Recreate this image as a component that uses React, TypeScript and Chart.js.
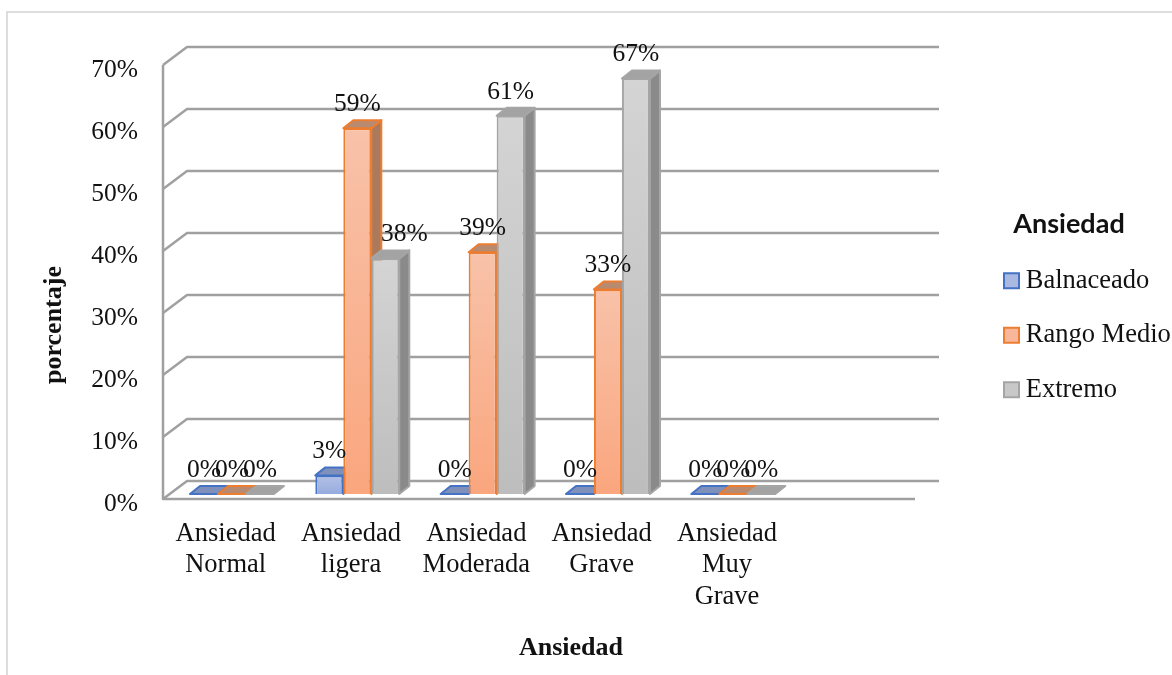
import React, { useEffect, useRef } from "react";
import { Chart, registerables } from "chart.js";

Chart.register(...registerables);

const categories: (string | string[])[] = [
  ["Ansiedad", "Normal"],
  ["Ansiedad", "ligera"],
  ["Ansiedad", "Moderada"],
  ["Ansiedad", "Grave"],
  ["Ansiedad", "Muy", "Grave"],
  "",
];
const balanceado = [0, 3, 0, 0, 0, null];
const rangoMedio = [0, 59, 39, 33, 0, null];
const extremo = [0, 38, 61, 67, 0, null];
const seriesNames = ["Balnaceado", "Rango Medio", "Extremo"];
const axisTitleY = "porcentaje";
const axisTitleX = "Ansiedad";
const legendTitle = "Ansiedad";

const borderColors = ["#4472C4", "#ED7D31", "#A5A5A5"];
const gradTop = ["#B4C1E6", "#F8C2A9", "#D4D4D4"];
const gradBottom = ["#96ABDE", "#FAA67E", "#BDBDBD"];
const legendFill = ["#AAB9E2", "#F8B79A", "#C8C8C8"];
const topFace = ["#7F90BA", "#B88A70", "#A3A3A3"];
const sideFace = ["#6B7CA6", "#A97A5E", "#8A8A8A"];

const SERIF = "'Liberation Serif'";
const FS = 25.5;
const FS_LABEL = 26.5;
const WALL = "#A0A0A0";
const BAR_DX = 6.3;
const BAR_DY = -5;
const DEPTH_X = 10;
const DEPTH_Y = -8;
const WALL_DX = 24;
const WALL_DY = -18;

const shiftTitle = (dx: number, dy: number) => (scale: any) => {
  if (scale._shifted) return;
  scale._shifted = true;
  const orig = scale.drawTitle;
  scale.drawTitle = function (...a: any[]) {
    const c = this.ctx;
    c.save();
    c.translate(dx, dy);
    orig.apply(this, a);
    c.restore();
  };
};

const scene3d = {
  id: "scene3d",
  beforeLayout(chart: any) {
    const l = chart.legend;
    if (l && !l._fixed) {
      l._fixed = true;
      const f = l.fit;
      l.fit = function () {
        f.call(this);
        this.width = 257;
      };
    }
  },
  afterLayout(chart: any) {
    const l = chart.legend;
    const pad = l.options.labels.padding;
    const h = l.height;
    l.left = 1010.5 - pad;
    l.width = 2 * (1069 - l.left);
    l.right = 1172;
    l.top = 210.5;
    l.bottom = l.top + h;
  },
  beforeDraw(chart: any) {
    const c = chart.ctx;
    c.save();
    c.strokeStyle = "#DDDDDD";
    c.lineWidth = 2;
    c.beginPath();
    c.moveTo(7, 675);
    c.lineTo(7, 12);
    c.lineTo(1172, 12);
    c.stroke();
    c.restore();
  },
  beforeDatasetsDraw(chart: any) {
    const c = chart.ctx;
    const y = chart.scales.y;
    const { left, right } = chart.chartArea;
    c.save();
    c.strokeStyle = WALL;
    c.lineWidth = 2.5;
    c.lineJoin = "round";
    y.ticks.forEach((t: any) => {
      const py = y.getPixelForValue(t.value);
      c.beginPath();
      c.moveTo(left, py);
      c.lineTo(left + WALL_DX, py + WALL_DY);
      c.lineTo(right + WALL_DX, py + WALL_DY);
      c.stroke();
    });
    c.beginPath();
    c.moveTo(left, y.getPixelForValue(70));
    c.lineTo(left, y.getPixelForValue(0));
    c.lineTo(right, y.getPixelForValue(0));
    c.stroke();
    c.restore();

    // Draw the series left to right so each bar covers its neighbour's side face.
    chart.data.datasets.forEach((ds: any, i: number) => {
      const meta = chart.getDatasetMeta(i);
      c.save();
      c.translate(BAR_DX, BAR_DY);
      meta.data.forEach((el: any, k: number) => {
        if (ds.data[k] == null) return;
        const { x, y: top, base, width } = el.getProps(["x", "y", "base", "width"], true);
        const l = x - width / 2;
        const r = x + width / 2;
        c.lineWidth = 2;
        c.lineJoin = "round";
        c.strokeStyle = borderColors[i];
        c.fillStyle = sideFace[i];
        c.beginPath();
        c.moveTo(r, top);
        c.lineTo(r + DEPTH_X, top + DEPTH_Y);
        c.lineTo(r + DEPTH_X, base + DEPTH_Y);
        c.lineTo(r, base);
        c.closePath();
        if (base - top > 0.5) {
          c.fill();
          c.stroke();
        }
        c.fillStyle = topFace[i];
        c.beginPath();
        c.moveTo(l, top);
        c.lineTo(l + DEPTH_X, top + DEPTH_Y);
        c.lineTo(r + DEPTH_X, top + DEPTH_Y);
        c.lineTo(r, top);
        c.closePath();
        c.fill();
        c.stroke();
      });
      meta.controller.draw();
      c.restore();
    });
  },
  beforeDatasetDraw() {
    return false;
  },
  afterDatasetsDraw(chart: any) {
    const c = chart.ctx;
    c.save();
    c.fillStyle = "#111111";
    c.font = `${FS}px ${SERIF}`;
    c.textAlign = "center";
    c.textBaseline = "middle";
    chart.data.datasets.forEach((ds: any, i: number) => {
      chart.getDatasetMeta(i).data.forEach((el: any, k: number) => {
        const v = ds.data[k];
        if (v == null) return;
        const nudge = i === 2 && k === 1 ? 19 : 0;
        c.fillText(`${v}%`, el.x + BAR_DX + nudge, el.y + BAR_DY - 24);
      });
    });
    c.restore();
  },
};

const fillFor = (i: number) => (ctx: any) => {
  const sc = ctx.chart.scales.y;
  const v = ctx.parsed && ctx.parsed.y;
  if (!sc || v == null || v === 0) return gradTop[i];
  const g = ctx.chart.ctx.createLinearGradient(0, sc.getPixelForValue(v), 0, sc.getPixelForValue(0));
  g.addColorStop(0, gradTop[i]);
  g.addColorStop(1, gradBottom[i]);
  return g;
};

export default function App() {
  const ref = useRef<HTMLCanvasElement>(null);
  useEffect(() => {
    document.body.style.margin = "0";
    document.body.style.background = "#FFFFFF";
    const series = [balanceado, rangoMedio, extremo];
    const chart = new Chart(ref.current as HTMLCanvasElement, {
      type: "bar",
      data: {
        labels: categories as any,
        datasets: series.map((data, i) => ({
          label: seriesNames[i],
          data,
          backgroundColor: fillFor(i),
          borderColor: borderColors[i],
          borderWidth: 2,
          categoryPercentage: 0.67,
          barPercentage: 1,
          clip: false,
        })) as any,
      },
      options: {
        responsive: false,
        animation: false,
        events: [],
        layout: { padding: { top: 65, left: 0, right: 0, bottom: 0 } },
        plugins: {
          tooltip: { enabled: false },
          legend: {
            position: "right",
            align: "start",
            title: {
              display: true,
              text: legendTitle,
              position: "center",
              color: "#111111",
              padding: { top: 0, bottom: 2 },
              font: { family: "Lato", weight: "bold", size: 27, lineHeight: 1 },
            },
            labels: {
              usePointStyle: true,
              boxWidth: 2,
              boxHeight: 15,
              padding: 28,
              color: "#111111",
              font: { family: SERIF, size: FS_LABEL },
              generateLabels: (ch: any) =>
                ch.data.datasets.map((d: any, i: number) => ({
                  text: d.label,
                  fillStyle: legendFill[i],
                  strokeStyle: borderColors[i],
                  lineWidth: 2,
                  pointStyle: "rect",
                  datasetIndex: i,
                })),
            },
          },
        },
        scales: {
          x: {
            grid: { display: false, drawTicks: false },
            border: { display: false },
            offset: true,
            afterFit: (s: any) => {
              s.height = 176;
            },
            afterUpdate: shiftTitle(32, 0),
            title: {
              display: true,
              text: axisTitleX,
              color: "#111111",
              padding: { top: 0, bottom: 11 },
              font: { family: SERIF, size: 26, weight: "bold", lineHeight: 1.2 },
            },
            ticks: {
              autoSkip: false,
              maxRotation: 0,
              minRotation: 0,
              padding: 19,
              color: "#111111",
              font: { family: SERIF, size: FS_LABEL, lineHeight: 1.19 },
            },
          },
          y: {
            min: 0,
            max: 70,
            grid: { display: false, drawTicks: false },
            border: { display: false },
            afterFit: (s: any) => {
              s.width = 163;
            },
            afterUpdate: shiftTitle(0, 43),
            title: {
              display: true,
              text: axisTitleY,
              color: "#111111",
              padding: { top: 39, bottom: 0 },
              font: { family: SERIF, size: 26, weight: "bold", lineHeight: 1.2 },
            },
            ticks: {
              stepSize: 10,
              padding: 25,
              labelOffset: 5,
              color: "#111111",
              font: { family: SERIF, size: FS },
              callback: (v: any) => `${v}%`,
            },
          },
        },
      } as any,
      plugins: [scene3d as any],
    });
    return () => chart.destroy();
  }, []);
  return (
    <canvas
      ref={ref}
      width={1172}
      height={675}
      style={{ display: "block", width: 1172, height: 675 }}
    />
  );
}
